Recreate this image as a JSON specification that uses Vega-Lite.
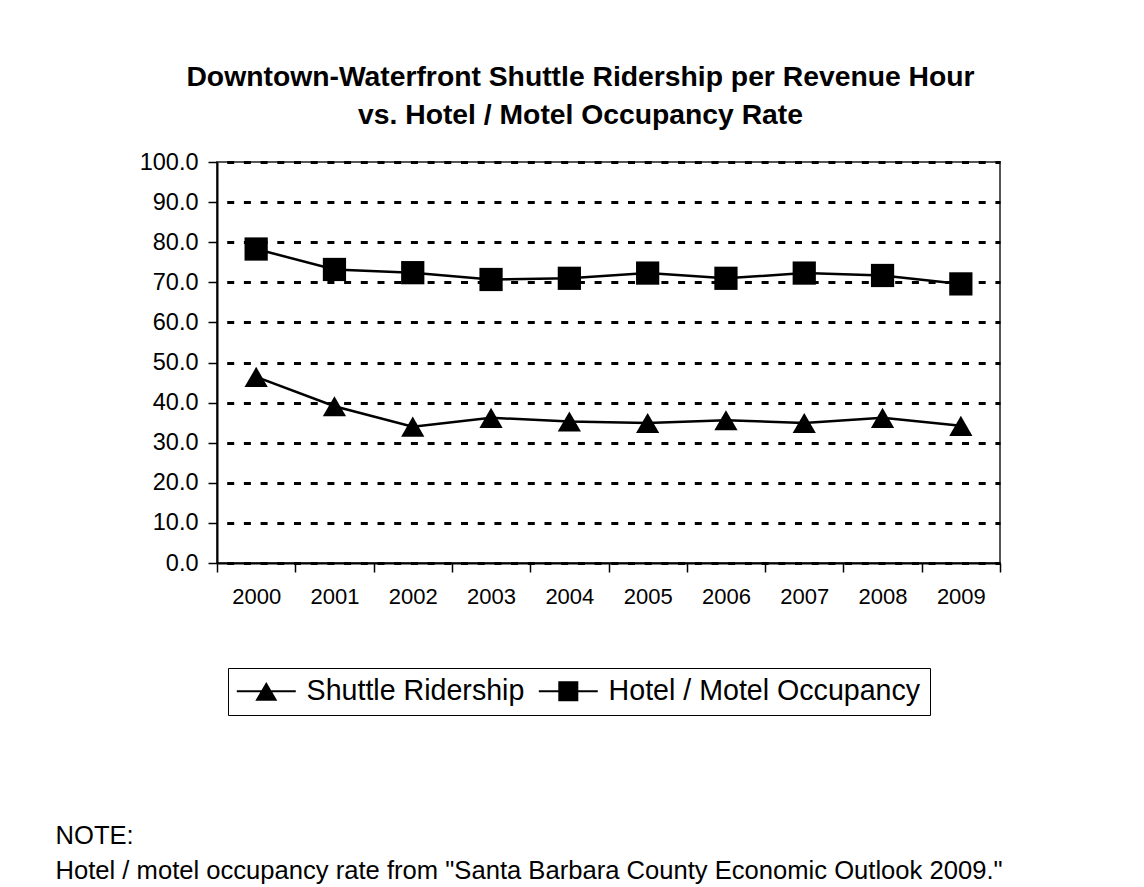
{
  "$schema": "https://vega.github.io/schema/vega-lite/v6.json",
  "width": 783,
  "height": 401,
  "autosize": {"type": "none"},
  "padding": {"left": 217, "top": 162, "right": 144, "bottom": 324},
  "background": "white",
  "config": {
    "font": "Liberation Sans",
    "view": {"stroke": "#555555", "strokeWidth": 2}
  },
  "title": {
    "text": ["Downtown-Waterfront Shuttle Ridership per Revenue Hour", "vs. Hotel / Motel Occupancy Rate"],
    "fontSize": 28.3,
    "fontWeight": "bold",
    "font": "Liberation Sans",
    "color": "black",
    "anchor": "middle",
    "dx": -28,
    "lineHeight": 38,
    "baseline": "alphabetic",
    "offset": -2
  },
  "data": {
    "values": [
      {"year": "2000", "series": "Shuttle Ridership", "value": 46.4},
      {"year": "2001", "series": "Shuttle Ridership", "value": 39.1},
      {"year": "2002", "series": "Shuttle Ridership", "value": 34.0},
      {"year": "2003", "series": "Shuttle Ridership", "value": 36.2},
      {"year": "2004", "series": "Shuttle Ridership", "value": 35.3},
      {"year": "2005", "series": "Shuttle Ridership", "value": 34.9},
      {"year": "2006", "series": "Shuttle Ridership", "value": 35.6},
      {"year": "2007", "series": "Shuttle Ridership", "value": 34.9},
      {"year": "2008", "series": "Shuttle Ridership", "value": 36.2},
      {"year": "2009", "series": "Shuttle Ridership", "value": 34.2},
      {"year": "2000", "series": "Hotel / Motel Occupancy", "value": 78.3},
      {"year": "2001", "series": "Hotel / Motel Occupancy", "value": 73.2},
      {"year": "2002", "series": "Hotel / Motel Occupancy", "value": 72.4},
      {"year": "2003", "series": "Hotel / Motel Occupancy", "value": 70.7},
      {"year": "2004", "series": "Hotel / Motel Occupancy", "value": 71.0},
      {"year": "2005", "series": "Hotel / Motel Occupancy", "value": 72.3},
      {"year": "2006", "series": "Hotel / Motel Occupancy", "value": 71.0},
      {"year": "2007", "series": "Hotel / Motel Occupancy", "value": 72.3},
      {"year": "2008", "series": "Hotel / Motel Occupancy", "value": 71.7},
      {"year": "2009", "series": "Hotel / Motel Occupancy", "value": 69.6}
    ]
  },
  "encoding": {
    "x": {
      "field": "year",
      "type": "ordinal",
      "scale": {"type": "band", "paddingInner": 0, "paddingOuter": 0},
      "axis": {
        "tickBand": "extent",
        "grid": false,
        "labelAngle": 0,
        "labelFontSize": 22,
        "labelColor": "black",
        "labelPadding": 14,
        "tickSize": 9,
        "tickColor": "black",
        "tickWidth": 1.5,
        "domainColor": "black",
        "domainWidth": 2,
        "title": ["NOTE:", "Hotel / motel occupancy rate from \"Santa Barbara County Economic Outlook 2009.\""],
        "titleFontSize": 25.6,
        "titleFontWeight": "normal",
        "titleColor": "black",
        "titleAlign": "left",
        "titleAnchor": "start",
        "titleBaseline": "alphabetic",
        "titleX": -162,
        "titleY": 280,
        "titleLineHeight": 35
      }
    },
    "y": {
      "field": "value",
      "type": "quantitative",
      "scale": {"domain": [0, 100], "nice": false},
      "axis": {
        "values": [0, 10, 20, 30, 40, 50, 60, 70, 80, 90, 100],
        "format": ".1f",
        "title": null,
        "labelFontSize": 23.5,
        "labelColor": "black",
        "labelPadding": 10,
        "tickSize": 9,
        "tickColor": "black",
        "tickWidth": 1.5,
        "domainColor": "black",
        "domainWidth": 2,
        "grid": true,
        "gridColor": "black",
        "gridWidth": 3,
        "gridDash": [7, 9.7],
        "gridDashOffset": 7
      }
    }
  },
  "layer": [
    {
      "mark": {"type": "line", "color": "black", "strokeWidth": 2.5},
      "encoding": {"detail": {"field": "series", "type": "nominal"}}
    },
    {
      "mark": {"type": "point", "filled": true, "color": "black", "opacity": 1, "size": 540},
      "encoding": {
        "shape": {
          "field": "series",
          "type": "nominal",
          "scale": {"domain": ["Shuttle Ridership", "Hotel / Motel Occupancy"], "range": ["triangle-up", "square"]},
          "legend": null
        }
      }
    },
    {
      "mark": {"type": "point", "filled": true, "color": "black", "opacity": 0, "size": 484},
      "encoding": {
        "shape": {
          "field": "series",
          "type": "nominal",
          "scale": {
            "domain": ["Shuttle Ridership", "Hotel / Motel Occupancy"],
            "range": ["M-2.68,-0.09H2.68V0.09H-2.68ZM0,-0.86L1,0.86H-1Z", "M-2.68,-0.09H2.68V0.09H-2.68ZM-0.91,-0.91H0.91V0.91H-0.91Z"]
          },
          "legend": {
            "orient": "none",
            "legendX": 11,
            "legendY": 506,
            "direction": "horizontal",
            "title": null,
            "strokeColor": "black",
            "fillColor": "white",
            "padding": 9,
            "labelFontSize": 28.6,
            "labelFont": "Liberation Sans",
            "labelColor": "black",
            "labelLimit": 500,
            "labelOffset": 26,
            "symbolOffset": 15,
            "columnPadding": 13,
            "symbolSize": 484,
            "symbolStrokeWidth": 0,
            "symbolFillColor": "black",
            "symbolOpacity": 1
          }
        }
      }
    }
  ],
  "resolve": {"scale": {"shape": "independent"}, "legend": {"shape": "independent"}}
}
